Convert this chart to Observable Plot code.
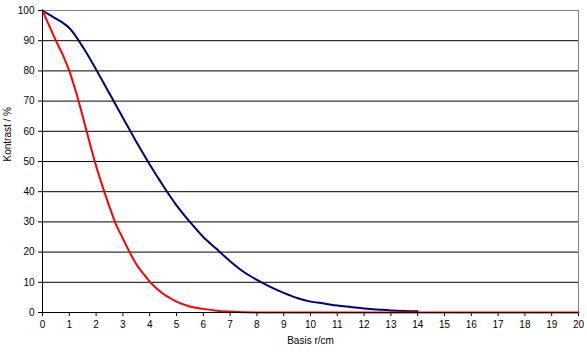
<!DOCTYPE html>
<html>
<head>
<meta charset="utf-8">
<script src="https://cdn.jsdelivr.net/npm/d3@7"></script>
<script src="https://cdn.jsdelivr.net/npm/@observablehq/plot@0.6"></script>
<style>
  html, body { margin: 0; padding: 0; background: #fff; }
  #chart svg { display: block; }
</style>
</head>
<body>
<div id="chart"></div>
<script>
const redR = [0, 0.25, 0.5, 0.75, 1.0, 1.25, 1.5, 1.75, 2.0, 2.25, 2.5, 2.75, 3.0, 3.25, 3.5, 3.75, 4.0, 4.25, 4.5, 4.75, 5.0, 5.5, 6.0, 6.5, 7.0, 8, 10, 12, 14, 16, 18, 20];
const redK = [100, 95, 90, 85.5, 80, 73, 65, 56.5, 48.5, 41.5, 35, 29, 24.5, 20, 16, 13, 10.2, 8, 6.2, 4.8, 3.6, 2.0, 1.2, 0.6, 0.3, 0, 0, 0, 0, 0, 0, 0];
const blueR = [0, 0.25, 0.5, 0.75, 1.0, 1.5, 2.0, 2.5, 3.0, 3.5, 4.0, 4.5, 5.0, 5.5, 6.0, 6.5, 7.0, 7.5, 8.0, 8.5, 9.0, 9.5, 10, 10.5, 11, 11.5, 12, 12.5, 13, 13.5, 14];
const blueK = [100, 98.6, 97.3, 96, 94.2, 88, 80.5, 72.5, 64.5, 56.5, 49, 42, 35.5, 30, 25, 21, 17, 13.5, 10.8, 8.5, 6.5, 4.8, 3.6, 3.0, 2.3, 1.8, 1.3, 1.0, 0.7, 0.5, 0.4];
const xTicks = d3.range(0, 21, 1);
const yTicks = d3.range(0, 101, 10);
const gridY = d3.range(10, 100, 10);

const red = redR.map((r, i) => ({r, k: redK[i]}));
const blue = blueR.map((r, i) => ({r, k: blueK[i]}));

const chart = Plot.plot({
  width: 587,
  height: 354,
  marginLeft: 42,
  marginRight: 9,
  marginTop: 10,
  marginBottom: 42,
  style: {fontFamily: "'Liberation Sans', Arial, sans-serif", fontSize: "10px", color: "#000", background: "#fff"},
  x: {domain: [0, 20], ticks: xTicks, tickSize: 4, tickPadding: 4, label: null},
  y: {domain: [0, 100], ticks: yTicks, tickSize: 4, tickPadding: 4, label: null},
  marks: [
    Plot.ruleY(gridY, {stroke: "#000", strokeWidth: 1}),
    Plot.ruleY([100], {stroke: "#808080", strokeWidth: 1}),
    Plot.ruleX([20], {stroke: "#808080", strokeWidth: 1}),
    Plot.line(blue, {x: "r", y: "k", stroke: "#000080", strokeWidth: 2, curve: "monotone-x"}),
    Plot.line(red, {x: "r", y: "k", stroke: "#ff0000", strokeWidth: 2, curve: "monotone-x"}),
    Plot.ruleX([0], {stroke: "#000", strokeWidth: 1}),
    Plot.ruleY([0], {stroke: "#000", strokeWidth: 1}),
    Plot.text(["Basis r/cm"], {frameAnchor: "bottom", dy: 31, fontSize: 10}),
    Plot.text(["Kontrast / %"], {frameAnchor: "left", dx: -35, rotate: -90, fontSize: 10})
  ]
});
document.getElementById("chart").appendChild(chart);
</script>
</body>
</html>
